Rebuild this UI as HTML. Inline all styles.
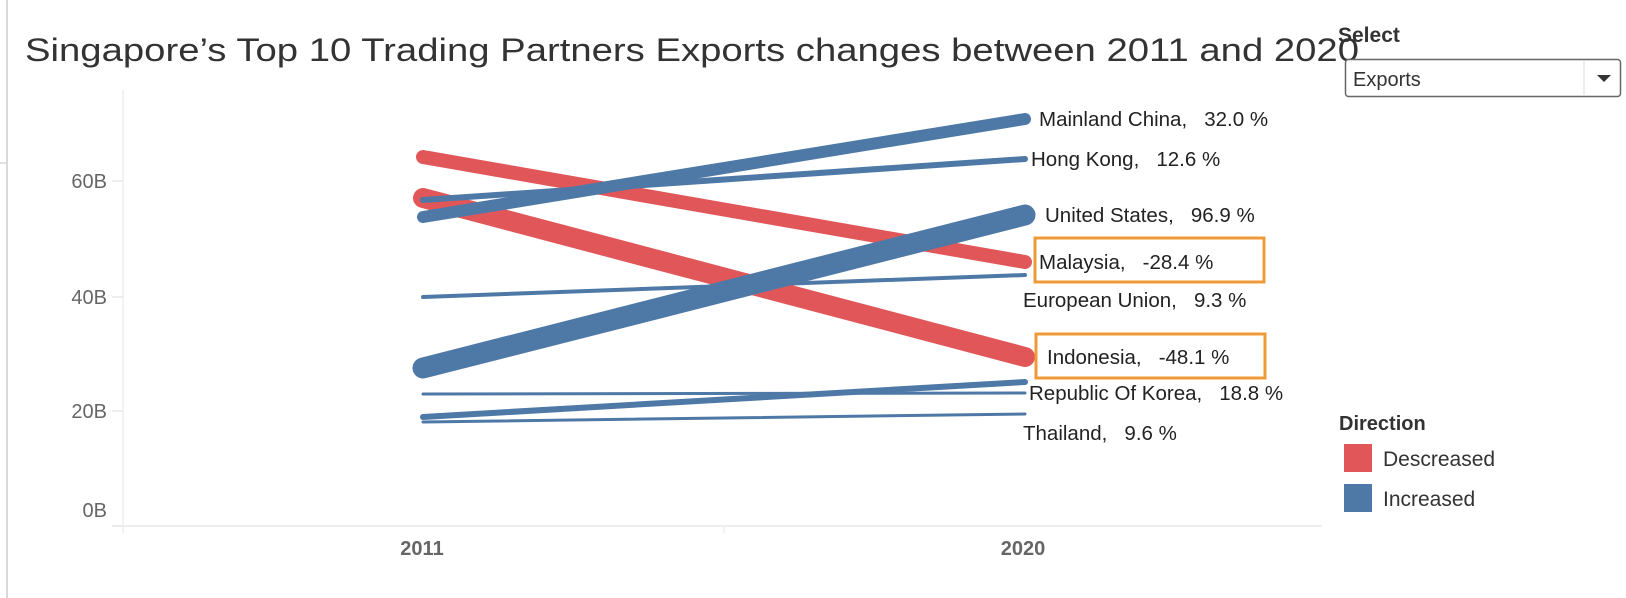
<!DOCTYPE html>
<html><head><meta charset="utf-8"><style>
html,body{margin:0;padding:0;background:#fff;}
svg{display:block;font-family:"Liberation Sans",sans-serif;}
</style></head><body>
<svg width="1626" height="598" viewBox="0 0 1626 598" xmlns="http://www.w3.org/2000/svg">
<rect x="0" y="0" width="1626" height="598" fill="#fff"/>
<line x1="7" y1="0" x2="7" y2="598" stroke="#d9d9d9" stroke-width="2"/>
<line x1="0" y1="163" x2="7" y2="163" stroke="#d9d9d9" stroke-width="1.5"/>
<text x="25" y="61" font-size="32" fill="#333" textLength="1334" lengthAdjust="spacingAndGlyphs">Singapore’s Top 10 Trading Partners Exports changes between 2011 and 2020</text>
<!-- axes -->
<line x1="123" y1="90" x2="123" y2="526" stroke="#eeeeee" stroke-width="1.5"/>
<line x1="112" y1="526" x2="1322" y2="526" stroke="#eeeeee" stroke-width="2"/>
<line x1="123" y1="526" x2="123" y2="533" stroke="#eee" stroke-width="1.5"/>
<line x1="724" y1="526" x2="724" y2="533" stroke="#eee" stroke-width="1.5"/>
<g stroke="#e8e8e8" stroke-width="1.5">
<line x1="112" y1="181" x2="123" y2="181"/><line x1="112" y1="297" x2="123" y2="297"/>
<line x1="112" y1="411" x2="123" y2="411"/><line x1="112" y1="526" x2="123" y2="526"/>
</g>
<g font-size="20" fill="#666" text-anchor="end">
<text x="107" y="188">60B</text><text x="107" y="304">40B</text>
<text x="107" y="418">20B</text><text x="107" y="517">0B</text>
</g>
<g font-size="20" fill="#666" text-anchor="middle" font-weight="bold">
<text x="422" y="555">2011</text><text x="1023" y="555">2020</text>
</g>
<!-- lines -->
<g stroke-linecap="round" fill="none">
<line x1="423" y1="417" x2="1025" y2="382" stroke="#4e79a7" stroke-width="6"/>
<line x1="423" y1="422" x2="1025" y2="414" stroke="#4e79a7" stroke-width="3"/>
<line x1="423" y1="394" x2="1025" y2="393" stroke="#4e79a7" stroke-width="3"/>
<line x1="423" y1="297" x2="1025" y2="275" stroke="#4e79a7" stroke-width="4"/>
<line x1="423" y1="157" x2="1025" y2="262" stroke="#e15759" stroke-width="14"/>
<line x1="423" y1="198" x2="1025" y2="357" stroke="#e15759" stroke-width="20"/>
<line x1="423" y1="217" x2="1025" y2="119" stroke="#4e79a7" stroke-width="12"/>
<line x1="423" y1="200" x2="1025" y2="159" stroke="#4e79a7" stroke-width="6"/>
<line x1="423" y1="368" x2="1025" y2="215" stroke="#4e79a7" stroke-width="21"/>
</g>
<!-- labels -->
<g font-size="20.5" fill="#222">
<text x="1039" y="126">Mainland China,&#160;&#160;&#160;32.0 %</text>
<text x="1031" y="166">Hong Kong,&#160;&#160;&#160;12.6 %</text>
<text x="1045" y="222">United States,&#160;&#160;&#160;96.9 %</text>
<text x="1039" y="269">Malaysia,&#160;&#160;&#160;-28.4 %</text>
<text x="1023" y="307">European Union,&#160;&#160;&#160;9.3 %</text>
<text x="1047" y="364">Indonesia,&#160;&#160;&#160;-48.1 %</text>
<text x="1029" y="400">Republic Of Korea,&#160;&#160;&#160;18.8 %</text>
<text x="1023" y="440">Thailand,&#160;&#160;&#160;9.6 %</text>
</g>
<rect x="1035" y="238" width="229" height="44" fill="none" stroke="#f09a37" stroke-width="3"/>
<rect x="1036" y="334" width="229" height="44" fill="none" stroke="#f09a37" stroke-width="3"/>
<!-- select -->
<text x="1338" y="42" font-size="21" fill="#333" font-weight="bold">Select</text>
<rect x="1345.5" y="59.5" width="275" height="37" rx="3" fill="#fff" stroke="#666" stroke-width="1.5"/>
<line x1="1584" y1="60" x2="1584" y2="96" stroke="#ddd" stroke-width="1"/>
<text x="1353" y="86" font-size="20" fill="#333">Exports</text>
<polygon points="1597,75 1611,75 1604,82" fill="#333"/>
<!-- legend -->
<text x="1339" y="430" font-size="20" fill="#333" font-weight="bold">Direction</text>
<rect x="1344" y="444" width="28" height="28" fill="#e15759"/>
<rect x="1344" y="484" width="28" height="28" fill="#4e79a7"/>
<text x="1383" y="466" font-size="21" fill="#333">Descreased</text>
<text x="1383" y="506" font-size="21" fill="#333">Increased</text>
</svg>
</body></html>
